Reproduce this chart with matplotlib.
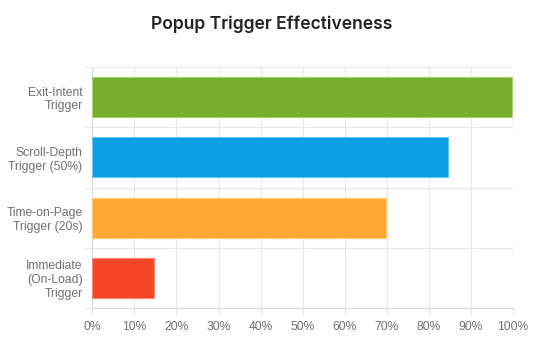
import matplotlib
matplotlib.use("Agg")
import matplotlib.pyplot as plt
import numpy as np

categories = ["Exit-Intent\nTrigger", "Scroll-Depth\nTrigger (50%)", "Time-on-Page\nTrigger (20s)", "Immediate\n(On-Load)\nTrigger"]
values = [99.7, 84.6, 69.7, 14.6]
colors = ["#77AD2D", "#0A9EE3", "#FFA933", "#F7452A"]
edge_colors = ["#A6D46A", "#62C6F5", "#FFC978", "#FB8A74"]
x_ticks = list(range(0, 101, 10))
x_labels = [f"{t}%" for t in x_ticks]
title = "Popup Trigger Effectiveness"

fig = plt.figure(figsize=(5.43, 3.45), dpi=100)
ax = fig.add_axes([92.3/543, 1-308/345, (513-92.3)/543, (308-67)/345])

y = np.arange(len(categories))
ax.barh(y, values, height=0.66, color=colors, edgecolor=edge_colors, linewidth=0.8, zorder=3)

ax.set_xlim(0, 100)
ax.set_ylim(len(categories)-0.5, -0.5)

ax.set_xticks(x_ticks)
ax.set_xticklabels(x_labels, fontsize=8.7, color="#707070", family=["Liberation Sans", "DejaVu Sans"])
ax.set_yticks(y)
ax.set_yticklabels(categories, fontsize=8.7, color="#707070", family=["Liberation Sans", "DejaVu Sans"], linespacing=1.2)
ax.set_yticks(np.arange(-0.5, len(categories)), minor=True)

ax.tick_params(axis="x", which="major", length=5, color="#e3e3e3", pad=4)
ax.tick_params(axis="y", which="major", length=0, pad=7)
ax.tick_params(axis="y", which="minor", length=6, color="#e3e3e3")

ax.grid(axis="x", which="major", color="#e8e8e8", linewidth=0.9, zorder=0)
ax.grid(axis="y", which="minor", color="#e8e8e8", linewidth=0.9, zorder=0)
ax.grid(axis="y", which="major", visible=False)

for s in ["top", "right"]:
    ax.spines[s].set_visible(False)
for s in ["left", "bottom"]:
    ax.spines[s].set_color("#dcdcdc")
    ax.spines[s].set_linewidth(0.9)

fig.text(0.5, 1-24/345, title, ha="center", va="center", fontsize=12.6, fontweight="semibold",
         color="#222222", family=["Inter", "DejaVu Sans"])

fig.savefig("out.png", dpi=100, facecolor="white")
